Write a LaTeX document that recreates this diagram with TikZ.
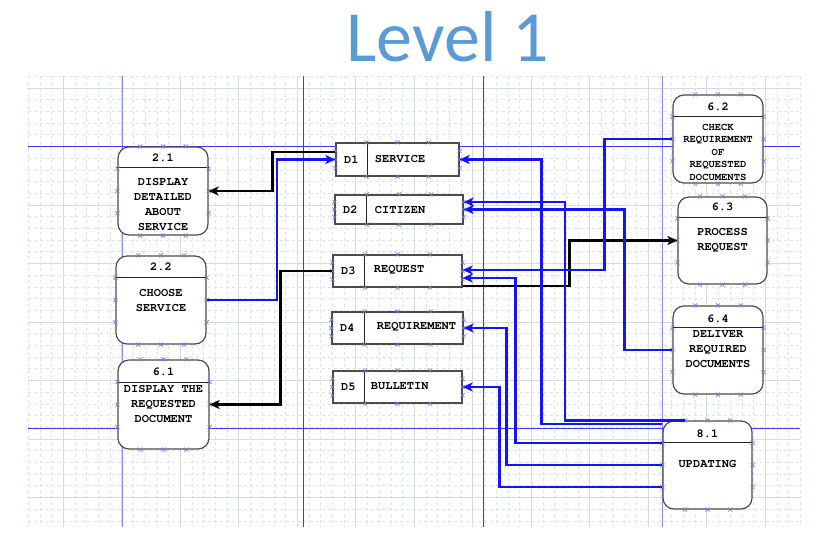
\documentclass[tikz,border=0pt]{standalone}
\usepackage{fontspec}
\setmainfont{Liberation Serif}
\newfontfamily\titlefont{Carlito}
\newfontfamily\dfdfont{TeX Gyre Cursor}
\usetikzlibrary{arrows.meta,calc}
\definecolor{titleblue}{HTML}{5B9BD5}
\definecolor{gridminor}{HTML}{DCE5E5}
\definecolor{gridmajor}{HTML}{D2DEDE}
\definecolor{guidedark}{HTML}{3A3AF5}
\definecolor{guidelight}{HTML}{8A8ADA}
\definecolor{flowblue}{HTML}{1414F5}
\definecolor{handle}{HTML}{7878E8}

\begin{document}
\begin{tikzpicture}[x=1pt,y=-1pt,
        proc/.style={draw=black!70,line width=1.2pt,rounded corners=11pt,minimum width=90pt,minimum height=88pt,inner sep=0pt},
        store/.style={draw=black!70,line width=1.2pt,minimum width=128pt,minimum height=32pt,inner sep=0pt},
        hline/.style={draw=black!85,line width=1pt},
        pnum/.style={font=\dfdfont\bfseries\fontsize{12}{14}\selectfont},
        ptext/.style={align=center,font=\dfdfont\bfseries\fontsize{12}{15}\selectfont},
        stext/.style={font=\dfdfont\bfseries\fontsize{12}{14}\selectfont},
        kflow/.style={draw=black,line width=2.5pt,-{Stealth[length=10pt,width=9pt,inset=2.5pt]}},
        bflow/.style={draw=flowblue,line width=2.2pt,-{Stealth[length=10pt,width=9pt,inset=2.5pt]}},
        minorgrid/.style={draw=gridminor,line width=0.8pt,dash pattern=on 3pt off 3pt},
        majorgrid/.style={draw=gridmajor,line width=0.9pt},
        guide/.style={draw=guidedark,line width=0.9pt},
        xmark/.style={draw=handle,line width=0.6pt}]
    \useasboundingbox (0,0) rectangle (829,542);

    % Title
    \node[text=titleblue,font=\titlefont\fontsize{72}{80}\selectfont] (title) at (448,37) {Level 1};

    % Grid
    \foreach \i in {0,...,66}
        \draw[minorgrid] ({28.2+11.7*\i},76) -- ({28.2+11.7*\i},527);
    \foreach \i in {0,...,38}
        \draw[minorgrid] (28,{76.3+11.7*\i}) -- (800,{76.3+11.7*\i});
    \foreach \i in {0,...,12}
        \draw[majorgrid] ({63.3+58.5*\i},76) -- ({63.3+58.5*\i},527);
    \foreach \i in {0,...,7}
        \draw[majorgrid] (28,{88+58.5*\i}) -- (800,{88+58.5*\i});

    % Guides
    \draw[guide,draw=guidelight] (122,76) -- (122,527);
    \draw[guide] (303,76) -- (303,527);
    \draw[guide] (483,76) -- (483,527);
    \draw[guide,draw=guidelight] (662,76) -- (662,527);
    \draw[guide] (28,146) -- (800,146);
    \draw[guide] (28,428) -- (800,428);

    % Processes left
    \node[proc,fill=white] (p21) at (163,191) {};
    \draw[hline] ([yshift=-21pt]p21.north west) -- ([yshift=-21pt]p21.north east);
    \node[pnum] (n21) at ([yshift=-11pt]p21.north) {2.1};
    \node[ptext] (t21) at (163,204) {DISPLAY\\DETAILED\\ABOUT\\SERVICE};

    \node[proc,fill=white] (p22) at (161,300) {};
    \draw[hline] ([yshift=-22pt]p22.north west) -- ([yshift=-22pt]p22.north east);
    \node[pnum] (n22) at ([yshift=-11pt]p22.north) {2.2};
    \node[ptext] (t22) at (161,300) {CHOOSE\\SERVICE};

    \node[proc,fill=white,minimum width=91pt,minimum height=89pt] (p61) at (163.5,404.5) {};
    \draw[hline] ([yshift=-23pt]p61.north west) -- ([yshift=-23pt]p61.north east);
    \node[pnum] (n61) at ([yshift=-12pt]p61.north) {6.1};
    \node[ptext] (t61) at (163.5,404) {DISPLAY THE\\REQUESTED\\DOCUMENT};

    % Data stores
    \node[store,fill=white,minimum width=123pt,minimum height=33pt] (d1) at (397.5,159.5) {};
    \draw[hline] ([xshift=32pt]d1.north west) -- ([xshift=32pt]d1.south west);
    \node[stext] (d1id) at ([xshift=16pt]d1.west) {D1};
    \node[stext,anchor=west] (d1n) at ([xshift=36pt,yshift=1pt]d1.west) {SERVICE};

    \node[store,fill=white,minimum height=29pt] (d2) at (399,209.5) {};
    \draw[hline] ([xshift=32pt]d2.north west) -- ([xshift=32pt]d2.south west);
    \node[stext] (d2id) at ([xshift=16pt]d2.west) {D2};
    \node[stext,anchor=west] (d2n) at ([xshift=37pt]d2.west) {CITIZEN};

    \node[store,fill=white,minimum width=129pt] (d3) at (397.5,271) {};
    \draw[hline] ([xshift=32pt]d3.north west) -- ([xshift=32pt]d3.south west);
    \node[stext] (d3id) at ([xshift=16pt]d3.west) {D3};
    \node[stext,anchor=west] (d3n) at ([xshift=38pt,yshift=1.5pt]d3.west) {REQUEST};

    \node[store,fill=white,minimum width=131pt] (d4) at (397.5,328) {};
    \draw[hline] ([xshift=33pt]d4.north west) -- ([xshift=33pt]d4.south west);
    \node[stext] (d4id) at ([xshift=16pt]d4.west) {D4};
    \node[stext,anchor=west] (d4n) at ([xshift=42pt,yshift=1.5pt]d4.west) {REQUIREMENT};

    \node[store,fill=white,minimum width=129pt] (d5) at (397.5,387) {};
    \draw[hline] ([xshift=32pt]d5.north west) -- ([xshift=32pt]d5.south west);
    \node[stext] (d5id) at ([xshift=16pt]d5.west) {D5};
    \node[stext,anchor=west] (d5n) at ([xshift=35pt,yshift=1pt]d5.west) {BULLETIN};

    % Processes right
    \node[proc,fill=white] (p62) at (718,139) {};
    \draw[hline] ([yshift=-22pt]p62.north west) -- ([yshift=-22pt]p62.north east);
    \node[pnum] (n62) at ([yshift=-12pt]p62.north) {6.2};
    \node[ptext,font=\dfdfont\bfseries\fontsize{10.5}{12.5}\selectfont] (t62) at (718,152) {CHECK\\REQUIREMENT\\OF\\REQUESTED\\DOCUMENTS};

    \node[proc,fill=white,minimum width=89pt,minimum height=87pt] (p63) at (722.5,240.5) {};
    \draw[hline] ([yshift=-21pt]p63.north west) -- ([yshift=-21pt]p63.north east);
    \node[pnum] (n63) at ([yshift=-10pt]p63.north) {6.3};
    \node[ptext] (t63) at (722.5,240) {PROCESS\\REQUEST};

    \node[proc,fill=white] (p64) at (718,350) {};
    \draw[hline] ([yshift=-22pt]p64.north west) -- ([yshift=-22pt]p64.north east);
    \node[pnum] (n64) at ([yshift=-13pt]p64.north) {6.4};
    \node[ptext] (t64) at (718,349) {DELIVER\\REQUIRED\\DOCUMENTS};

    \node[proc,fill=white,minimum width=89pt] (p81) at (707.5,465) {};
    \draw[hline] ([yshift=-22pt]p81.north west) -- ([yshift=-22pt]p81.north east);
    \node[pnum] (n81) at ([yshift=-13pt]p81.north) {8.1};
    \node[ptext] (t81) at (707.5,464) {UPDATING};

    % Handles
    \foreach \n in {p21,p22,p61,p62,p63,p64,p81,d1,d2,d3,d4,d5}
        \foreach \f in {0.25,0.5,0.75} {
            \draw[xmark] ($(\n.north west)!\f!(\n.north east)$) ++(-2,-2) -- ++(4,4) ++(-4,0) -- ++(4,-4);
            \draw[xmark] ($(\n.south west)!\f!(\n.south east)$) ++(-2,-2) -- ++(4,4) ++(-4,0) -- ++(4,-4);
            \draw[xmark] ($(\n.north west)!\f!(\n.south west)$) ++(-2,-2) -- ++(4,4) ++(-4,0) -- ++(4,-4);
            \draw[xmark] ($(\n.north east)!\f!(\n.south east)$) ++(-2,-2) -- ++(4,4) ++(-4,0) -- ++(4,-4);
        }

    % Flows
    \draw[kflow] ([yshift=7.5pt]d1.west) -- ++(-63,0) |- (p21.east);
    \draw[bflow] (p22.east) -- ++(70,0) |- (d1.west);
    \draw[kflow] (d3.west) -- ++(-52,0) |- (p61.east);
    \draw[kflow] ([yshift=-15pt]d3.east) -- ++(107,0) |- (p63.west);
    \draw[bflow] (p62.west) -- ++(-68,0) |- ([yshift=1pt]d3.east);
    \draw[bflow] (p64.west) -- ++(-48,0) |- (d2.east);
    \draw[bflow] ([yshift=41pt]p81.west) -- ++(-121,0) |- (d1.east);
    \draw[bflow] ([xshift=-22.5pt]p81.north) -- ++(-120,0) |- ([yshift=7.5pt]d2.east);
    \draw[bflow] ([yshift=22pt]p81.west) -- ++(-147,0) |- ([yshift=-7pt]d3.east);
    \draw[bflow] (p81.west) -- ++(-156,0) |- (d4.east);
    \draw[bflow] ([yshift=-22pt]p81.west) -- ++(-163,0) |- (d5.east);
\end{tikzpicture}
\end{document}
